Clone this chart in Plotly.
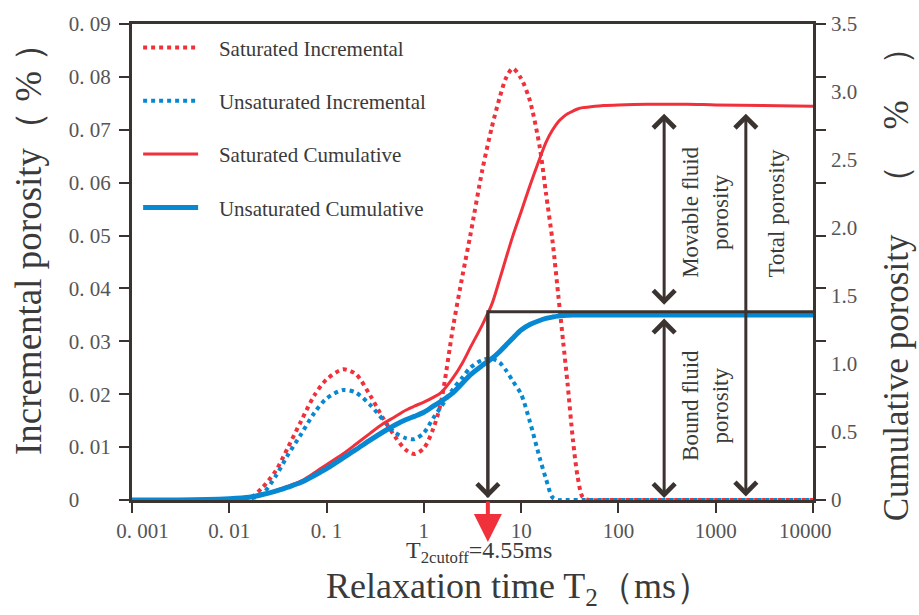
import math
import plotly.graph_objects as go

# NMR T2 spectra (saturated vs. centrifuged/unsaturated state)
t2_ms = [0.001, 0.003, 0.01, 0.016, 0.022, 0.03, 0.04, 0.055, 0.075, 0.1,
         0.148, 0.2, 0.28, 0.38, 0.5, 0.65, 0.8, 1.0, 1.25, 1.5,
         2.0, 2.5, 3.0, 4.0, 5.0, 6.0, 7.0, 8.2, 10, 12.3,
         15.5, 18, 21, 24, 27, 30, 34, 38, 43, 50,
         70, 100, 200, 500, 1000, 3000, 10000]

sat_incremental = [0, 0, 0, 0.0003, 0.0024, 0.0055, 0.0099, 0.0150, 0.0198, 0.0228,
                   0.0247, 0.0238, 0.0198, 0.0155, 0.0121, 0.0095, 0.0087, 0.0098, 0.0135, 0.0185,
                   0.0328, 0.0425, 0.0500, 0.0625, 0.0705, 0.0760, 0.0798, 0.0816, 0.0797, 0.0755,
                   0.0668, 0.0580, 0.0490, 0.0390, 0.0300, 0.0220, 0.0115, 0.0045, 0.0005, 0,
                   0, 0, 0, 0, 0, 0, 0]

unsat_incremental = [0, 0, 0, 0.0002, 0.0012, 0.0045, 0.0085, 0.0125, 0.0165, 0.0192,
                     0.0208, 0.0203, 0.0180, 0.0152, 0.0128, 0.0117, 0.0115, 0.0127, 0.0155, 0.0176,
                     0.0210, 0.0232, 0.0250, 0.0265, 0.0267, 0.0260, 0.0245, 0.0225, 0.0200, 0.0148,
                     0.0080, 0.0040, 0.0005, 0, 0, 0, 0, 0, 0, 0,
                     0, 0, 0, 0, 0, 0, 0]

sat_cumulative = [0, 0, 0.01, 0.02, 0.04, 0.07, 0.10, 0.14, 0.20, 0.26,
                  0.34, 0.41, 0.49, 0.56, 0.61, 0.66, 0.69, 0.72, 0.755, 0.79,
                  0.90, 1.01, 1.12, 1.29, 1.44, 1.62, 1.78, 1.94, 2.12, 2.31,
                  2.51, 2.63, 2.72, 2.78, 2.815, 2.84, 2.86, 2.875, 2.885, 2.89,
                  2.90, 2.905, 2.91, 2.91, 2.905, 2.90, 2.895]

unsat_cumulative = [0, 0, 0.01, 0.02, 0.04, 0.065, 0.095, 0.13, 0.18, 0.23,
                    0.31, 0.37, 0.44, 0.50, 0.55, 0.59, 0.615, 0.645, 0.69, 0.725,
                    0.79, 0.86, 0.92, 0.99, 1.04, 1.09, 1.14, 1.19, 1.25, 1.29,
                    1.32, 1.335, 1.345, 1.352, 1.356, 1.358, 1.36, 1.36, 1.36, 1.36,
                    1.36, 1.36, 1.36, 1.36, 1.36, 1.36, 1.36]

t2_cutoff = 4.55          # ms
bound_level = 1.385       # cumulative porosity at the cutoff bracket (%)
movable_top = 2.84        # top of the porosity arrows (%)
arrow_x_fluid = 295       # ms, position of movable / bound arrows
arrow_x_total = 2040      # ms, position of total porosity arrow

NB = "\u00a0"
x_tickvals = [0.001, 0.01, 0.1, 1, 10, 100, 1000, 10000]
x_ticktext = [NB * 4 + "0. 001", "0. 01", "0. 1", "1", "10", "100", "1000", "10000" + NB * 3]
y_tickvals = [0, 0.01, 0.02, 0.03, 0.04, 0.05, 0.06, 0.07, 0.08, 0.09]
y_ticktext = ["0" + NB * 6, "0. 01", "0. 02", "0. 03", "0. 04", "0. 05",
              "0. 06", "0. 07", "0. 08", "0. 09"]
y2_tickvals = [0, 0.5, 1.0, 1.5, 2.0, 2.5, 3.0, 3.5]
y2_ticktext = ["0", "0.5", "1.0", "1.5", "2.0", "2.5", "3.0", "3.5"]

RED = "#f0313c"
BLUE = "#0788d2"
DARK = "#3b3330"
TEXT = "#3a3a3a"
TICK = "#555555"
SERIF = "Liberation Serif, Times New Roman, serif"

fig = go.Figure()

fig.add_trace(go.Scatter(
    x=t2_ms, y=sat_incremental, name=NB * 3 + "Saturated Incremental", legendgroup="a",
    mode="lines", line=dict(color=RED, width=4, dash="4px,4px", shape="spline", smoothing=0.8),
))
fig.add_trace(go.Scatter(
    x=t2_ms, y=unsat_incremental, name=NB * 3 + "Unsaturated Incremental", legendgroup="b",
    mode="lines", line=dict(color=BLUE, width=4, dash="4px,4px", shape="spline", smoothing=0.8),
))
fig.add_trace(go.Scatter(
    x=t2_ms, y=sat_cumulative, name=NB * 3 + "Saturated Cumulative", legendgroup="c", yaxis="y2",
    mode="lines", line=dict(color=RED, width=3, shape="spline", smoothing=0.8),
))
fig.add_trace(go.Scatter(
    x=t2_ms, y=unsat_cumulative, name=NB * 3 + "Unsaturated Cumulative", legendgroup="d", yaxis="y2",
    mode="lines", line=dict(color=BLUE, width=5, shape="spline", smoothing=0.8),
))

# cutoff bracket: vertical drop at T2cutoff and horizontal bound-fluid level
fig.add_trace(go.Scatter(
    x=[10000, t2_cutoff, t2_cutoff], y=[bound_level, bound_level, 0.02], yaxis="y2",
    mode="lines", line=dict(color=DARK, width=3), showlegend=False, hoverinfo="skip",
))


def porosity_arrow(x_ms, y_head, y_tail, both=False):
    lx = math.log10(x_ms)
    return dict(
        x=lx, y=y_head, ax=lx, ay=y_tail, xref="x", yref="y2", axref="x", ayref="y2",
        text="", showarrow=True, arrowhead=4, arrowsize=1.4, arrowwidth=3,
        arrowcolor=DARK, arrowside="end+start" if both else "end",
        startarrowhead=4, startarrowsize=1.4,
    )


annotations = [
    porosity_arrow(t2_cutoff, 0.015, bound_level),
    porosity_arrow(arrow_x_fluid, movable_top, bound_level + 0.04, both=True),
    porosity_arrow(arrow_x_fluid, 0.015, bound_level - 0.04, both=True),
    porosity_arrow(arrow_x_total, movable_top, 0.015, both=True),
    # red cutoff marker below the axis
    dict(x=math.log10(t2_cutoff), y=-0.088, xref="x", yref="paper", ax=0, ay=-42,
         text="", showarrow=True, arrowhead=2, arrowsize=1.4, arrowwidth=4, arrowcolor=RED),
    dict(x=math.log10(t2_cutoff), y=-0.109, xref="x", yref="paper", xshift=-9,
         text="T<sub>2cutoff</sub>=4.55ms", showarrow=False, yanchor="middle",
         font=dict(family=SERIF, size=24, color=TEXT)),
    dict(x=math.log10(arrow_x_fluid), y=(bound_level + movable_top) / 2, xref="x", yref="y2",
         xshift=42, text="Movable fluid<br>porosity", showarrow=False, textangle=-90,
         font=dict(family=SERIF, size=23, color=TEXT)),
    dict(x=math.log10(arrow_x_fluid), y=bound_level / 2, xref="x", yref="y2",
         xshift=42, text="Bound fluid<br>porosity", showarrow=False, textangle=-90,
         font=dict(family=SERIF, size=23, color=TEXT)),
    dict(x=math.log10(arrow_x_total), y=(bound_level + movable_top) / 2, xref="x", yref="y2",
         xshift=31, text="Total porosity", showarrow=False, textangle=-90,
         font=dict(family=SERIF, size=23, color=TEXT)),
    # axis titles
    dict(x=0.568, y=-0.186, xref="paper", yref="paper", showarrow=False,
         text="Relaxation time T<sub>2</sub>（ms）", yanchor="middle",
         font=dict(family=SERIF, size=36, color=TEXT)),
    dict(x=-0.1527, y=0.546, xref="paper", yref="paper", showarrow=False, textangle=-90,
         text="Incremental porosity（ % ）", xanchor="center", yanchor="middle",
         font=dict(family=SERIF, size=37, color=TEXT)),
    dict(x=1.122, y=0.47, xref="paper", yref="paper", showarrow=False, textangle=-90,
         text="Cumulative porosity\u3000（\u3000%\u3000）", xanchor="center", yanchor="middle",
         font=dict(family=SERIF, size=35, color=TEXT)),
]

fig.update_layout(
    width=919, height=615,
    margin=dict(l=132, r=106, t=15, b=115),
    paper_bgcolor="white", plot_bgcolor="white",
    font=dict(family=SERIF, color=TICK),
    xaxis=dict(
        type="log", range=[-3, 4], tickvals=x_tickvals, ticktext=x_ticktext,
        ticks="outside", ticklen=10, tickwidth=2, tickcolor=DARK,
        showline=True, linewidth=3, linecolor=DARK, mirror=True, layer="below traces",
        showgrid=False, zeroline=False, tickfont=dict(size=21, color=TICK),
    ),
    yaxis=dict(
        range=[0, 0.09], tickvals=y_tickvals, ticktext=y_ticktext,
        ticks="outside", ticklen=10, tickwidth=2, tickcolor=DARK,
        showline=True, linewidth=3, linecolor=DARK, mirror="ticks", layer="below traces",
        showgrid=False, zeroline=False, tickfont=dict(size=21, color=TICK),
        ticklabelstandoff=4,
    ),
    yaxis2=dict(
        overlaying="y", side="right", range=[0, 3.5],
        tickvals=y2_tickvals, ticktext=y2_ticktext, ticks="",
        showline=False, showgrid=False, zeroline=False,
        tickfont=dict(size=21, color=TICK), ticklabelstandoff=17,
    ),
    legend=dict(
        x=0.009, y=0.993, xanchor="left", yanchor="top",
        font=dict(family=SERIF, size=21, color=TEXT),
        bgcolor="rgba(0,0,0,0)", traceorder="grouped", tracegroupgap=23,
        itemwidth=55,
    ),
    annotations=annotations,
)

fig.write_html("out.html")
